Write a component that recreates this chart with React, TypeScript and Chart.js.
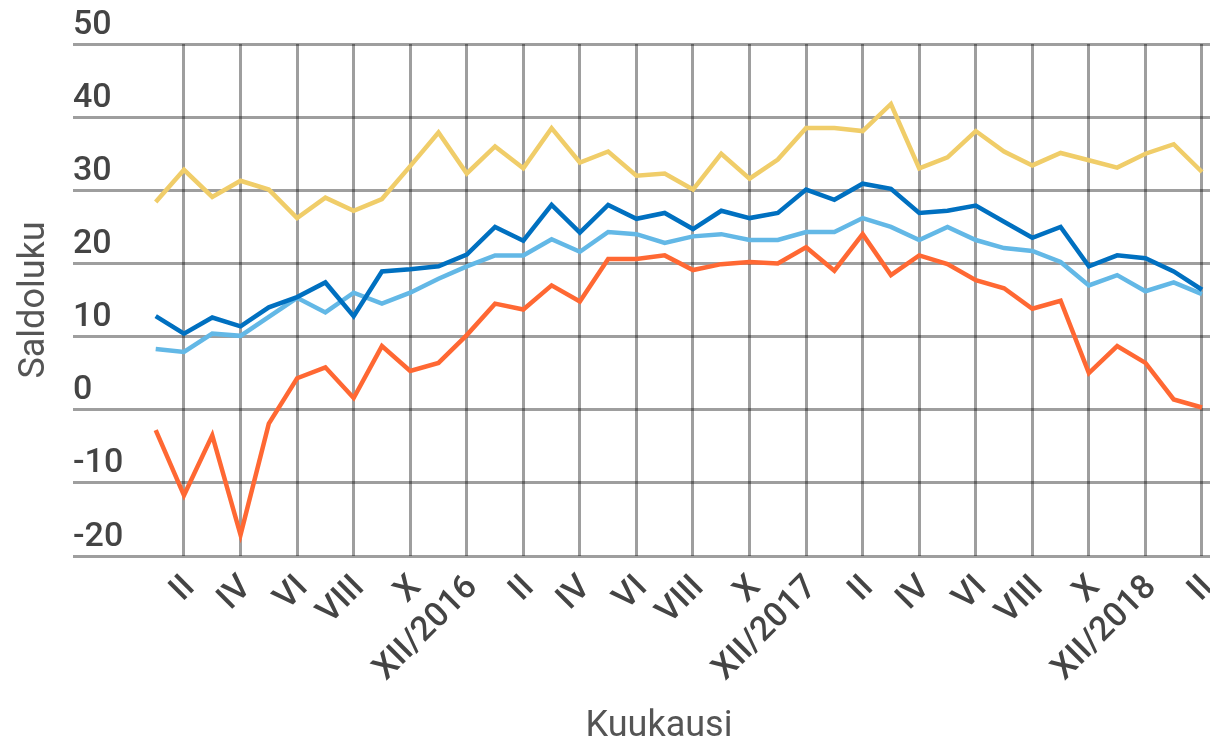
import React, { useEffect, useRef } from 'react';
import { Chart, registerables } from 'chart.js';

Chart.register(...registerables);

// Month labels, I/2016 … II/2019 (December carries the year)
const categories: string[] = [
  'I', 'II', 'III', 'IV', 'V', 'VI', 'VII', 'VIII', 'IX', 'X', 'XI', 'XII/2016',
  'I', 'II', 'III', 'IV', 'V', 'VI', 'VII', 'VIII', 'IX', 'X', 'XI', 'XII/2017',
  'I', 'II', 'III', 'IV', 'V', 'VI', 'VII', 'VIII', 'IX', 'X', 'XI', 'XII/2018',
  'I', 'II',
];

// Indices of the months whose label and grid line are shown
const labelledIndices: number[] = [1, 3, 5, 7, 9, 11, 13, 15, 17, 19, 21, 23, 25, 27, 29, 31, 33, 35, 37];

const yTicks: number[] = [-20, -10, 0, 10, 20, 30, 40, 50];

const seriesYellow: number[] = [
  28.4, 32.8, 29.1, 31.3, 30.1, 26.2, 29.0, 27.2, 28.8, 33.3, 37.9, 32.3,
  36.0, 33.0, 38.5, 33.8, 35.3, 32.0, 32.3, 30.1, 35.0, 31.6, 34.2, 38.5,
  38.5, 38.1, 41.8, 33.0, 34.5, 38.1, 35.3, 33.4, 35.1, 34.1, 33.1, 35.0,
  36.3, 32.5,
];

const seriesDarkBlue: number[] = [
  12.8, 10.4, 12.6, 11.4, 14.0, 15.4, 17.4, 12.8, 18.9, 19.2, 19.6, 21.2,
  25.0, 23.1, 28.0, 24.2, 28.0, 26.1, 26.9, 24.7, 27.2, 26.2, 26.9, 30.1,
  28.7, 30.9, 30.2, 26.9, 27.2, 27.9, 25.7, 23.5, 25.0, 19.6, 21.1, 20.7,
  18.9, 16.4,
];

const seriesLightBlue: number[] = [
  8.3, 7.9, 10.4, 10.1, 12.7, 15.3, 13.3, 16.0, 14.5, 16.0, 17.9, 19.6,
  21.1, 21.1, 23.3, 21.6, 24.3, 24.0, 22.8, 23.7, 24.0, 23.2, 23.2, 24.3,
  24.3, 26.2, 25.0, 23.2, 25.0, 23.2, 22.1, 21.7, 20.2, 17.0, 18.4, 16.2,
  17.4, 15.8,
];

const seriesOrange: number[] = [
  -2.8, -11.7, -3.5, -17.1, -1.9, 4.3, 5.8, 1.6, 8.7, 5.3, 6.4, 10.2,
  14.5, 13.7, 17.0, 14.8, 20.6, 20.6, 21.1, 19.1, 19.9, 20.2, 20.0, 22.2,
  19.0, 24.0, 18.4, 21.1, 19.9, 17.7, 16.6, 13.8, 14.9, 5.0, 8.7, 6.4,
  1.4, 0.3,
];

const GRID = 'rgba(0,0,0,0.38)';
const TICK_COLOR = '#444444';
const TITLE_COLOR = '#555555';
const FONT = 'Roboto';

const toPoints = (values: number[]) => values.map((y, x) => ({ x, y }));

export default function App() {
  const canvasRef = useRef<HTMLCanvasElement | null>(null);

  useEffect(() => {
    document.body.style.margin = '0';
    const canvas = canvasRef.current;
    if (!canvas) return;

    const chart = new Chart(canvas, {
      type: 'line',
      data: {
        datasets: [
          { label: 'Sarja 1', data: toPoints(seriesYellow), borderColor: '#F0CD69', backgroundColor: '#F0CD69' },
          { label: 'Sarja 2', data: toPoints(seriesDarkBlue), borderColor: '#0070C0', backgroundColor: '#0070C0' },
          { label: 'Sarja 3', data: toPoints(seriesLightBlue), borderColor: '#63B8E6', backgroundColor: '#63B8E6' },
          { label: 'Sarja 4', data: toPoints(seriesOrange), borderColor: '#FF6833', backgroundColor: '#FF6833' },
        ],
      },
      options: {
        animation: false,
        responsive: true,
        maintainAspectRatio: false,
        layout: { padding: { left: 0, right: 0, top: 44, bottom: 0 } },
        elements: {
          point: { radius: 0, hoverRadius: 0 },
          line: { borderWidth: 4.5, tension: 0, borderJoinStyle: 'miter' },
        },
        plugins: {
          legend: { display: false },
          tooltip: { enabled: false },
        },
        scales: {
          x: {
            type: 'linear',
            bounds: 'data',
            min: -1.687,
            max: 37.283,
            afterBuildTicks: (scale: any) => {
              scale.ticks = labelledIndices.map((value) => ({ value }));
            },
            afterFit: (scale: any) => {
              scale.height = 193;
              scale.paddingLeft = 0;
              scale.paddingRight = 0;
            },
            border: { display: false },
            grid: { color: GRID, lineWidth: 3, drawTicks: false },
            ticks: {
              autoSkip: false,
              minRotation: 45,
              maxRotation: 45,
              padding: 12,
              labelOffset: 6,
              color: TICK_COLOR,
              font: { family: FONT, size: 34, weight: '500' },
              callback: (value: any) => categories[Math.round(Number(value))],
            },
            title: {
              display: true,
              text: 'Kuukausi',
              color: TITLE_COLOR,
              font: { family: FONT, size: 36 },
              padding: { top: 0, bottom: 0 },
            },
          },
          y: {
            min: yTicks[0],
            max: yTicks[yTicks.length - 1],
            afterBuildTicks: (scale: any) => {
              scale.ticks = yTicks.map((value) => ({ value }));
            },
            afterFit: (scale: any) => {
              scale.width = 108;
              scale.paddingTop = 0;
              scale.paddingBottom = 0;
            },
            border: { display: false },
            grid: { color: GRID, lineWidth: 3, drawTicks: true, tickLength: 35 },
            ticks: {
              mirror: true,
              padding: -35,
              labelOffset: -19,
              color: TICK_COLOR,
              font: { family: FONT, size: 34, weight: '500' },
            },
            title: {
              display: true,
              text: 'Saldoluku',
              color: TITLE_COLOR,
              font: { family: FONT, size: 36 },
              padding: { top: 13, bottom: 0 },
            },
          },
        },
      },
    });

    return () => chart.destroy();
  }, []);

  return (
    <div style={{ position: 'relative', width: '1210px', height: '749px' }}>
      <canvas ref={canvasRef} />
    </div>
  );
}
